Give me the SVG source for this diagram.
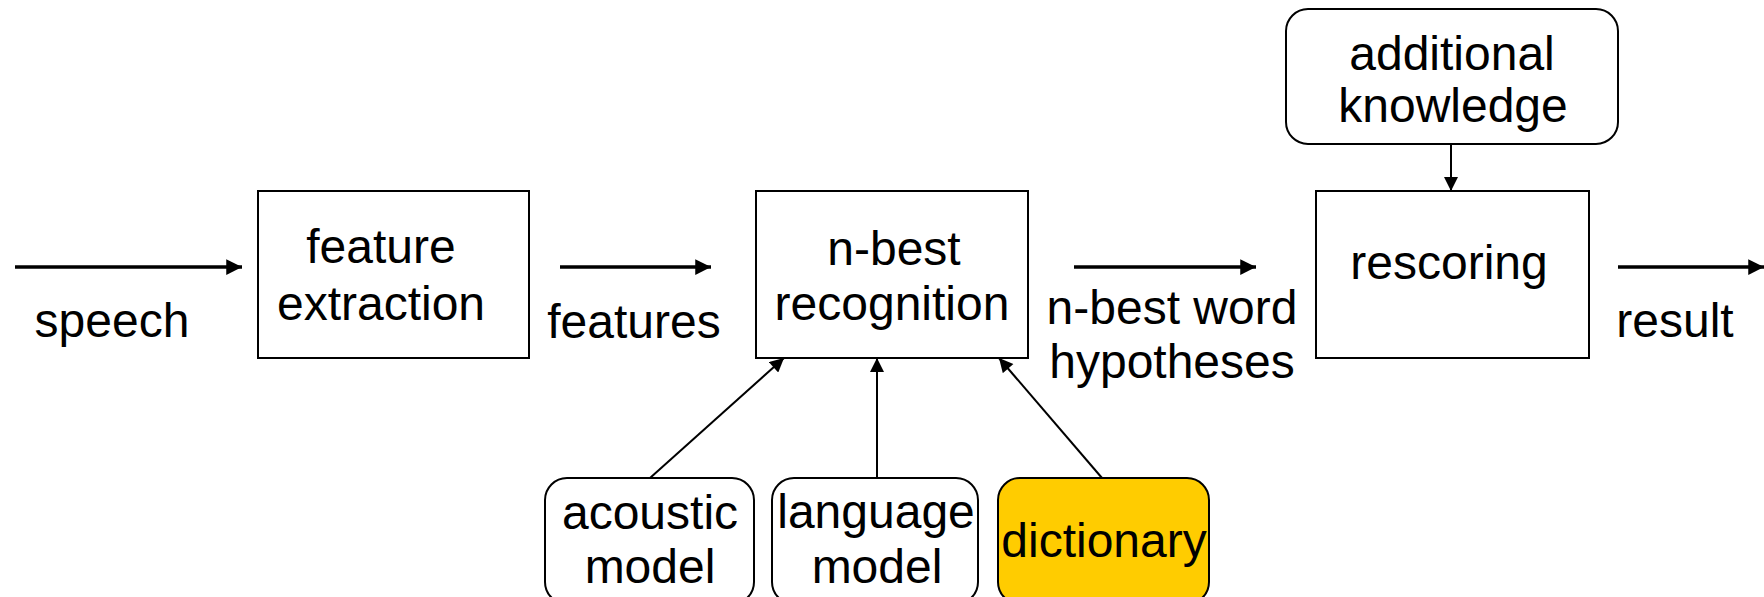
<svg xmlns="http://www.w3.org/2000/svg" width="1764" height="597" viewBox="0 0 1764 597">
<style>
text{font-family:"Liberation Sans",Arial,sans-serif;font-size:48px;fill:#000;text-anchor:middle}
.box{fill:#fff;stroke:#000;stroke-width:2}
.thick{stroke:#000;stroke-width:3.5;fill:none}
.thin{stroke:#000;stroke-width:2;fill:none}
</style>
<defs>
<marker id="ah" viewBox="0 0 10 10" refX="10" refY="5" markerWidth="4.5" markerHeight="4.5" orient="auto" markerUnits="strokeWidth"><path d="M0,0L10,5L0,10z" fill="#000"/></marker>
<marker id="ahs" viewBox="0 0 10 10" refX="10" refY="5" markerWidth="7.5" markerHeight="7" orient="auto" markerUnits="strokeWidth"><path d="M0,0L10,5L0,10z" fill="#000"/></marker>
</defs>
<rect width="1764" height="597" fill="#fff"/>
<g id="connectors">
<line class="thick" x1="15" y1="267" x2="242" y2="267" marker-end="url(#ah)"/>
<line class="thick" x1="560" y1="267" x2="711" y2="267" marker-end="url(#ah)"/>
<line class="thick" x1="1074" y1="267" x2="1256" y2="267" marker-end="url(#ah)"/>
<line class="thick" x1="1618" y1="267" x2="1764" y2="267" marker-end="url(#ah)"/>
<line class="thin" x1="1451" y1="144" x2="1451" y2="191" marker-end="url(#ahs)"/>
<line class="thin" x1="650" y1="478" x2="784" y2="358" marker-end="url(#ahs)"/>
<line class="thin" x1="877" y1="478" x2="877" y2="358" marker-end="url(#ahs)"/>
<line class="thin" x1="1102" y1="478" x2="999" y2="358" marker-end="url(#ahs)"/>
</g>
<g id="speech"><text x="112" y="337">speech</text></g>
<g id="features"><text x="634" y="338">features</text></g>
<g id="nbest-words"><text x="1172" y="324">n-best word</text><text x="1172" y="378">hypotheses</text></g>
<g id="result"><text x="1675" y="337">result</text></g>
<g id="feature-extraction"><rect class="box" x="258" y="191" width="271" height="167"/><text x="381" y="263">feature</text><text x="381" y="320">extraction</text></g>
<g id="nbest-recognition"><rect class="box" x="756" y="191" width="272" height="167"/><text x="894" y="265">n-best</text><text x="892" y="320">recognition</text></g>
<g id="rescoring"><rect class="box" x="1316" y="191" width="273" height="167"/><text x="1449" y="279">rescoring</text></g>
<g id="additional-knowledge"><rect class="box" x="1286" y="9" width="332" height="135" rx="22"/><text x="1452" y="70">additional</text><text x="1453" y="122">knowledge</text></g>
<g id="acoustic-model"><rect class="box" x="545" y="478" width="209" height="126" rx="22"/><text x="650" y="529">acoustic</text><text x="650" y="583">model</text></g>
<g id="language-model"><rect class="box" x="772" y="478" width="206" height="126" rx="22"/><text x="876" y="528">language</text><text x="877" y="583">model</text></g>
<g id="dictionary"><rect class="box" x="998" y="478" width="211" height="126" rx="22" style="fill:#ffcc00"/><text x="1104" y="557">dictionary</text></g>
</svg>
